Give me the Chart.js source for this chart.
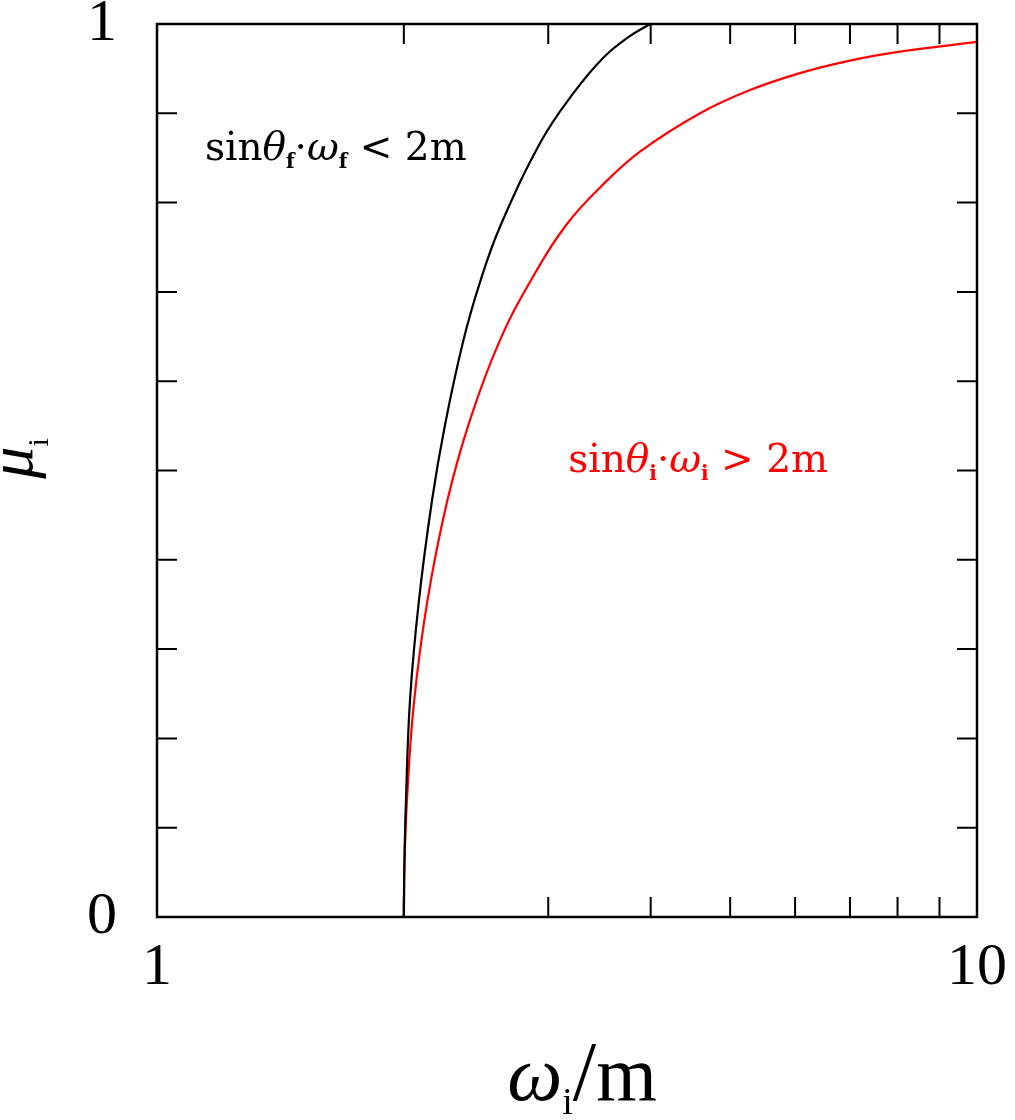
<!DOCTYPE html>
<html lang="en">

<head>
    <meta charset="utf-8">
    <title>mu_i vs omega_i/m</title>
    <script src="https://cdn.jsdelivr.net/npm/chart.js@4.4.0/dist/chart.umd.min.js"></script>
    <style>
        body { margin: 0; background: #fff; }
        canvas { display: block; }
    </style>
</head>

<body>
    <canvas id="myChart" width="1015" height="1120"></canvas>

    <script>
        // black curve: sin(theta_f)*omega_f < 2m boundary
        const blackX = [2.0, 2.003, 2.012, 2.035, 2.087, 2.165, 2.245, 2.363, 2.477, 2.62, 2.946, 3.216, 3.499, 3.753, 3.992];
        const blackY = [0, 0.06, 0.131, 0.243, 0.355, 0.467, 0.551, 0.645, 0.711, 0.773, 0.870, 0.922, 0.962, 0.985, 1.0];

        // red curve: sin(theta_i)*omega_i > 2m boundary
        const redX = [2.0, 2.004, 2.018, 2.056, 2.135, 2.258, 2.409, 2.62, 2.866, 3.162, 3.47, 3.882, 4.595, 5.287, 6.083, 7.0, 8.056, 10];
        const redY = [0, 0.062, 0.132, 0.237, 0.352, 0.465, 0.557, 0.646, 0.715, 0.776, 0.817, 0.857, 0.900, 0.926, 0.945, 0.959, 0.969, 0.980];

        // axis ranges and labelled ticks
        const xRange = [1, 10];
        const yRange = [0, 1];
        const yStep = 0.1;
        const xTickLabels = { 1: '1', 10: '10' };
        const yTickLabels = { 0: '0', 1: '1' };

        const serif = '"Liberation Serif", "DejaVu Serif", serif';
        const slab = '"DejaVu Serif", serif';

        const toPoints = (xs, ys) => xs.map((x, i) => ({ x: x, y: ys[i] }));

        // draw a run of text pieces: [text, font, dy]
        const drawRich = (ctx, parts, x, y, align) => {
            let w = 0;
            parts.forEach(p => { ctx.font = p[1]; w += ctx.measureText(p[0]).width; });
            let cx = align === 'center' ? x - w / 2 : x;
            parts.forEach(p => {
                ctx.font = p[1];
                ctx.fillText(p[0], cx, y + (p[2] || 0));
                cx += ctx.measureText(p[0]).width;
            });
        };

        // frame, inward ticks on all four sides, labels and axis titles
        const framePlugin = {
            id: 'frame',
            afterDatasetsDraw(chart) {
                const ctx = chart.ctx;
                const a = chart.chartArea;
                const xs = chart.scales.x;
                const ys = chart.scales.y;
                const len = 20;
                ctx.save();
                ctx.strokeStyle = '#000';
                ctx.lineWidth = 2;
                xs.ticks.forEach(t => {
                    if (t.value <= xRange[0] || t.value >= xRange[1]) return;
                    const px = xs.getPixelForValue(t.value);
                    ctx.beginPath();
                    ctx.moveTo(px, a.bottom); ctx.lineTo(px, a.bottom - len);
                    ctx.moveTo(px, a.top); ctx.lineTo(px, a.top + len);
                    ctx.stroke();
                });
                ys.ticks.forEach(t => {
                    if (t.value <= yRange[0] || t.value >= yRange[1]) return;
                    const py = ys.getPixelForValue(t.value);
                    ctx.beginPath();
                    ctx.moveTo(a.left, py); ctx.lineTo(a.left + len, py);
                    ctx.moveTo(a.right, py); ctx.lineTo(a.right - len, py);
                    ctx.stroke();
                });
                ctx.lineWidth = 2.5;
                ctx.strokeRect(a.left, a.top, a.right - a.left, a.bottom - a.top);

                // annotations
                ctx.textBaseline = 'alphabetic';
                ctx.fillStyle = '#000';
                drawRich(ctx, [
                    ['sin', '39px ' + slab],
                    ['\u03b8', 'italic 39px ' + slab],
                    ['f', 'bold 20px ' + slab, 8],
                    ['\u00b7', '39px ' + slab],
                    ['\u03c9', 'italic 39px ' + slab],
                    ['f', 'bold 20px ' + slab, 8],
                    [' < 2m', '39px ' + slab]
                ], xs.getPixelForValue(1.144), ys.getPixelForValue(0.848));

                ctx.fillStyle = '#ff0000';
                drawRich(ctx, [
                    ['sin', '39px ' + slab],
                    ['\u03b8', 'italic 39px ' + slab],
                    ['i', 'bold 20px ' + slab, 8],
                    ['\u00b7', '39px ' + slab],
                    ['\u03c9', 'italic 39px ' + slab],
                    ['i', 'bold 20px ' + slab, 8],
                    [' > 2m', '39px ' + slab]
                ], xs.getPixelForValue(3.173), ys.getPixelForValue(0.498));

                // axis titles
                ctx.fillStyle = '#000';
                drawRich(ctx, [
                    ['\u03c9', 'italic 78px ' + serif],
                    ['i', '38px ' + serif, 14],
                    ['/', '84px ' + serif],
                    ['m', '78px ' + serif]
                ], (a.left + a.right) / 2 + 15, 1100, 'center');

                ctx.translate(32, (a.top + a.bottom) / 2 - 12);
                ctx.rotate(-Math.PI / 2);
                drawRich(ctx, [
                    ['\u03bc', 'italic 64px ' + serif],
                    ['i', '30px ' + serif, 16]
                ], 0, 0, 'center');
                ctx.restore();
            }
        };

        const noPad = s => {
            s.paddingTop = 0; s.paddingBottom = 0;
            s.paddingLeft = 0; s.paddingRight = 0;
        };

        const lineStyle = {
            borderWidth: 2.2,
            showLine: true,
            pointRadius: 0,
            tension: 0.4
        };

        const myChart = new Chart(document.getElementById('myChart'), {
            type: 'scatter',
            data: {
                datasets: [
                    Object.assign({ label: 'black', data: toPoints(blackX, blackY), borderColor: '#000' }, lineStyle),
                    Object.assign({ label: 'red', data: toPoints(redX, redY), borderColor: '#ff0000' }, lineStyle)
                ]
            },
            options: {
                responsive: false,
                animation: false,
                layout: { padding: { top: 24, right: 38, bottom: 0, left: 0 } },
                plugins: {
                    legend: { display: false },
                    tooltip: { enabled: false }
                },
                scales: {
                    x: {
                        type: 'logarithmic',
                        min: xRange[0],
                        max: xRange[1],
                        grid: { display: false, drawTicks: false },
                        border: { display: false },
                        afterBuildTicks: s => {
                            // keep only the whole-number ticks 1..10
                            s.ticks = s.ticks.filter(t => Math.abs(t.value - Math.round(t.value)) < 1e-9);
                        },
                        ticks: {
                            autoSkip: false,
                            maxRotation: 0,
                            padding: 15,
                            color: '#000',
                            font: { family: serif, size: 60 },
                            callback: v => xTickLabels[Math.round(v)] || ''
                        },
                        afterFit: s => { s.height = 203; noPad(s); }
                    },
                    y: {
                        type: 'linear',
                        min: yRange[0],
                        max: yRange[1],
                        grid: { display: false, drawTicks: false },
                        border: { display: false },
                        ticks: {
                            stepSize: yStep,
                            autoSkip: false,
                            padding: 40,
                            color: '#000',
                            font: { family: serif, size: 60 },
                            callback: v => yTickLabels[v] || ''
                        },
                        afterFit: s => { s.width = 157; noPad(s); }
                    }
                }
            },
            plugins: [framePlugin]
        });
    </script>
</body>

</html>
